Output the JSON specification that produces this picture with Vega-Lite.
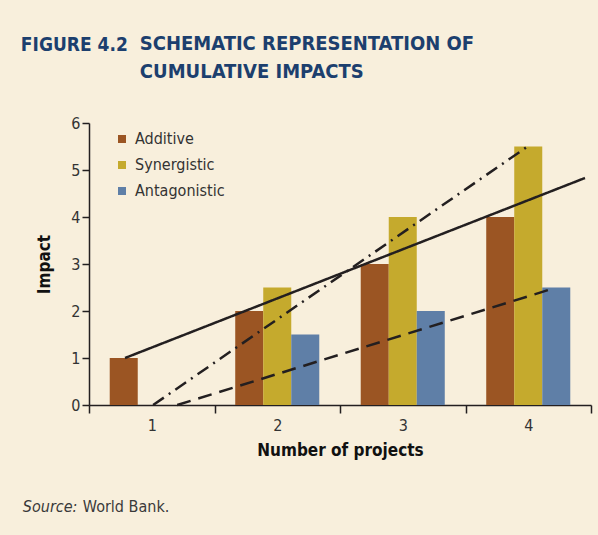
{
  "$schema": "https://vega.github.io/schema/vega-lite/v6.json",
  "background": "#f8efdc",
  "padding": {"left": 20, "top": 34, "right": 12, "bottom": 25},
  "title": {
    "text": "FIGURE 4.2",
    "anchor": "start",
    "frame": "bounds",
    "font": "DejaVu Sans Condensed",
    "fontSize": 19,
    "fontWeight": "bold",
    "color": "#1c3f6e",
    "offset": -21,
    "dx": -2
  },
  "datasets": {
    "bars": [
      {"projects": "1", "type": "Additive", "impact": 1},
      {"projects": "2", "type": "Additive", "impact": 2},
      {"projects": "2", "type": "Synergistic", "impact": 2.5},
      {"projects": "2", "type": "Antagonistic", "impact": 1.5},
      {"projects": "3", "type": "Additive", "impact": 3},
      {"projects": "3", "type": "Synergistic", "impact": 4},
      {"projects": "3", "type": "Antagonistic", "impact": 2},
      {"projects": "4", "type": "Additive", "impact": 4},
      {"projects": "4", "type": "Synergistic", "impact": 5.5},
      {"projects": "4", "type": "Antagonistic", "impact": 2.5}
    ],
    "lines": [
      {"type": "Additive", "projects": 0.787, "impact": 1.0},
      {"type": "Additive", "projects": 4.452, "impact": 4.83},
      {"type": "Synergistic", "projects": 1.011, "impact": 0},
      {"type": "Synergistic", "projects": 3.989, "impact": 5.49},
      {"type": "Antagonistic", "projects": 1.203, "impact": 0},
      {"type": "Antagonistic", "projects": 4.213, "impact": 2.49}
    ]
  },
  "vconcat": [
    {
      "title": {
        "text": ["SCHEMATIC REPRESENTATION OF", "CUMULATIVE IMPACTS"],
        "anchor": "start",
        "frame": "bounds",
        "font": "DejaVu Sans Condensed",
        "fontSize": 20,
        "fontWeight": "bold",
        "color": "#1c3f6e",
        "lineHeight": 28,
        "offset": 33,
        "dx": 117
      },
      "vconcat": [
        {
          "title": {
            "text": "Source:",
            "orient": "bottom",
            "anchor": "start",
            "frame": "bounds",
            "dx": -13,
            "offset": -16,
            "font": "DejaVu Sans Condensed",
            "fontSize": 16,
            "fontStyle": "italic",
            "fontWeight": "normal",
            "color": "#3a3a3a"
          },
          "vconcat": [
            {
              "width": 502,
              "height": 282,
              "title": {
                "text": "World Bank.",
                "orient": "bottom",
                "anchor": "start",
                "frame": "bounds",
                "dx": 47,
                "offset": 41,
                "font": "DejaVu Sans Condensed",
                "fontSize": 16,
                "fontStyle": "normal",
                "fontWeight": "normal",
                "color": "#3a3a3a"
              },
              "layer": [
                {
                  "data": {"name": "bars"},
                  "mark": {"type": "bar"},
                  "encoding": {
                    "x": {
                      "field": "projects",
                      "type": "ordinal",
                      "scale": {"paddingInner": 0, "paddingOuter": 0},
                      "axis": {
                        "title": "Number of projects",
                        "labelAngle": 0,
                        "tickBand": "extent",
                        "tickSize": 8,
                        "labelPadding": 4,
                        "titlePadding": 9
                      }
                    },
                    "xOffset": {
                      "field": "type",
                      "type": "nominal",
                      "scale": {"domain": ["Additive", "Synergistic", "Antagonistic"], "paddingInner": 0, "paddingOuter": 0.74}
                    },
                    "y": {
                      "field": "impact",
                      "type": "quantitative",
                      "scale": {"domain": [0, 6], "nice": false},
                      "axis": {"title": "Impact", "values": [0, 1, 2, 3, 4, 5, 6], "tickSize": 7, "labelPadding": 2, "titlePadding": 17}
                    },
                    "color": {
                      "field": "type",
                      "type": "nominal",
                      "scale": {"domain": ["Additive", "Synergistic", "Antagonistic"], "range": ["#9b5523", "#c5aa2d", "#5f7fa7"]},
                      "legend": {
                        "title": null,
                        "orient": "none",
                        "legendX": 25,
                        "legendY": 8,
                        "symbolType": "square",
                        "symbolSize": 64,
                        "symbolStrokeWidth": 0,
                        "labelFont": "DejaVu Sans Condensed",
                        "labelFontSize": 16,
                        "labelColor": "#333333",
                        "labelOffset": 5,
                        "rowPadding": 10,
                        "padding": 0
                      }
                    }
                  }
                },
                {
                  "data": {"name": "lines"},
                  "mark": {"type": "line", "color": "#231f20", "strokeWidth": 2.5},
                  "encoding": {
                    "x": {"field": "projects", "type": "quantitative", "scale": {"domain": [0.5, 4.5], "nice": false, "zero": false}, "axis": null},
                    "y": {"field": "impact", "type": "quantitative", "scale": {"domain": [0, 6], "nice": false}},
                    "detail": {"field": "type", "type": "nominal"},
                    "strokeDash": {
                      "field": "type",
                      "type": "nominal",
                      "scale": {"domain": ["Additive", "Synergistic", "Antagonistic"], "range": [[1, 0], [13, 6, 2, 6], [14, 8]]},
                      "legend": null
                    }
                  }
                }
              ],
              "resolve": {"scale": {"x": "independent"}}
            }
          ]
        }
      ]
    }
  ],
  "config": {
    "view": {"stroke": null},
    "concat": {"spacing": 0},
    "axis": {
      "grid": false,
      "domainColor": "#231f20",
      "domainWidth": 1.5,
      "tickColor": "#231f20",
      "tickWidth": 1.5,
      "labelFont": "DejaVu Sans Condensed",
      "labelFontSize": 16,
      "labelColor": "#333333",
      "titleFont": "DejaVu Sans Condensed",
      "titleFontSize": 17,
      "titleFontWeight": "bold",
      "titleColor": "#111111"
    }
  }
}
